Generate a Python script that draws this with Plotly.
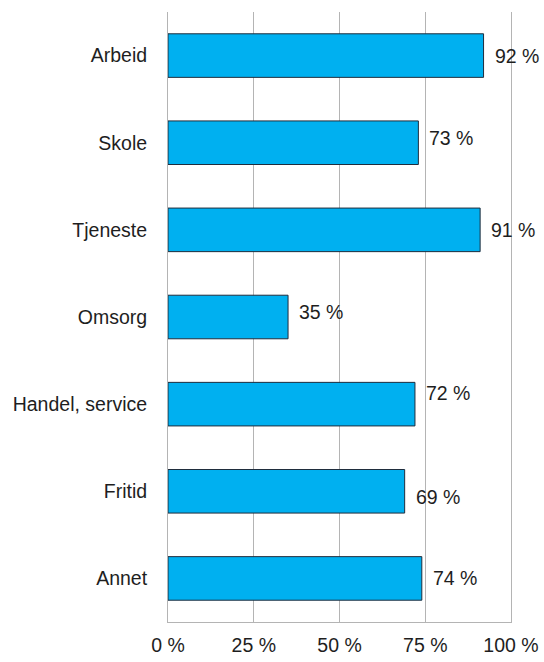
import plotly.graph_objects as go

categories = ["Arbeid", "Skole", "Tjeneste", "Omsorg", "Handel, service", "Fritid", "Annet"]
values = [92, 73, 91, 35, 72, 69, 74]
tick_vals = [0, 25, 50, 75, 100]
tick_text = ["0 %", "25 %", "50 %", "75 %", "100 %"]

# vertical nudge of each value label (px), as in the original
label_yshift = [0, 5, 0, 5, 11, -6, 0]

FONT = "Liberation Sans, Arial, sans-serif"
FSIZE = 19.5
GRID = "#b4b4b4"

fig = go.Figure()
fig.add_trace(
    go.Bar(
        x=values,
        y=categories,
        orientation="h",
        width=0.5,
        marker=dict(color="#00b0f0", line=dict(color="#1f2d3d", width=1)),
        hoverinfo="x+y",
    )
)

for cat, val, dy in zip(categories, values, label_yshift):
    fig.add_annotation(
        x=val,
        y=cat,
        text=f"{val} %",
        showarrow=False,
        xanchor="left",
        xshift=9,
        yshift=dy,
        font=dict(family=FONT, size=FSIZE, color="#1e1e1e"),
    )

fig.update_layout(
    width=544,
    height=662,
    margin=dict(l=168, r=33, t=12, b=40, autoexpand=False),
    paper_bgcolor="white",
    plot_bgcolor="white",
    showlegend=False,
    font=dict(family=FONT, size=FSIZE, color="#1e1e1e"),
    xaxis=dict(
        range=[0, 100],
        tickvals=tick_vals,
        ticktext=tick_text,
        showgrid=True,
        gridcolor=GRID,
        gridwidth=1,
        zeroline=False,
        showline=True,
        linecolor=GRID,
        linewidth=1,
        ticks="",
        ticklabelstandoff=6,
        automargin=False,
        fixedrange=True,
    ),
    yaxis=dict(
        categoryorder="array",
        categoryarray=categories,
        autorange="reversed",
        showgrid=False,
        zeroline=False,
        showline=True,
        mirror=True,
        linecolor=GRID,
        linewidth=1,
        ticks="",
        ticklabelstandoff=16,
        automargin=False,
        fixedrange=True,
    ),
)

# the page body has a default 8px margin; drop it so the figure fills the window
fig.write_html(
    "out.html",
    config={"displayModeBar": False},
    post_script="document.body.style.margin = '0';",
)
